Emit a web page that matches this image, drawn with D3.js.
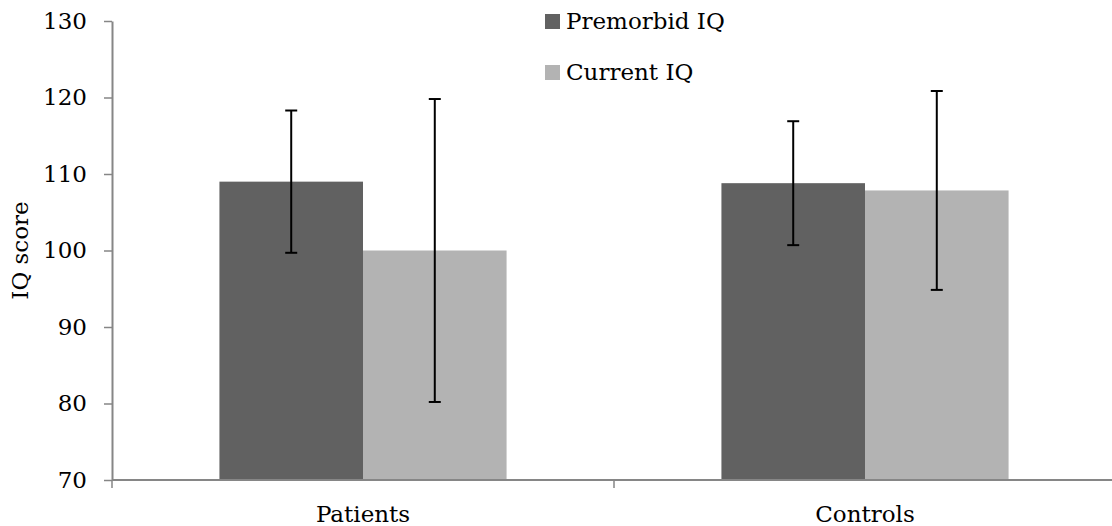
<!DOCTYPE html>
<html>
<head>
<meta charset="utf-8">
<script src="https://cdn.jsdelivr.net/npm/d3@7"></script>
<style>
  body { margin: 0; background: #fff; }
  svg text { font-family: "DejaVu Serif", serif; fill: #000; }
</style>
</head>
<body>
<figure id="bar-chart" style="margin:0"></figure>
<script>
const categories = ["Patients", "Controls"];
const seriesNames = ["Premorbid IQ", "Current IQ"];
const seriesColors = ["#616161", "#b3b3b3"];
const premorbidMeans = [109.0, 108.8];
const premorbidErr = [9.3, 8.1];
const currentMeans = [100.0, 107.85];
const currentErr = [19.8, 13.0];
const yTicks = [70, 80, 90, 100, 110, 120, 130];

const chartW = 1112, chartH = 526;
const plotLeft = 112, plotRight = 1116, plotTop = 21, plotBottom = 480;
const fontSize = 23;

const svg = d3.select("figure#bar-chart")
  .append("svg")
  .attr("width", chartW)
  .attr("height", chartH);

const data = categories.map((c, i) => ({
  name: c,
  values: [
    { key: seriesNames[0], mean: premorbidMeans[i], err: premorbidErr[i] },
    { key: seriesNames[1], mean: currentMeans[i], err: currentErr[i] }
  ]
}));

const xScale = d3.scaleBand()
  .domain(categories)
  .range([plotLeft, plotRight])
  .paddingInner(0.428)
  .paddingOuter(0.214);

const xInner = d3.scaleBand()
  .domain(seriesNames)
  .range([0, xScale.bandwidth()]);

const color = d3.scaleOrdinal().domain(seriesNames).range(seriesColors);

const yScale = d3.scaleLinear()
  .domain([70, 130])
  .range([plotBottom, plotTop]);

// bars
const groups = svg.selectAll("g.grp")
  .data(data)
  .enter()
  .append("g")
  .attr("class", "grp")
  .attr("transform", d => "translate(" + xScale(d.name) + ",0)");

groups.selectAll("rect")
  .data(d => d.values)
  .enter()
  .append("rect")
  .attr("x", d => xInner(d.key))
  .attr("y", d => yScale(d.mean))
  .attr("width", xInner.bandwidth())
  .attr("height", d => yScale(70) - yScale(d.mean))
  .attr("fill", d => color(d.key));

// error bars
const capW = 6;
const eb = groups.selectAll("g.err")
  .data(d => d.values)
  .enter()
  .append("g")
  .attr("class", "err")
  .attr("stroke", "#000")
  .attr("stroke-width", 2);

eb.append("line")
  .attr("x1", d => xInner(d.key) + xInner.bandwidth() / 2)
  .attr("x2", d => xInner(d.key) + xInner.bandwidth() / 2)
  .attr("y1", d => yScale(d.mean + d.err))
  .attr("y2", d => yScale(d.mean - d.err));
eb.append("line")
  .attr("x1", d => xInner(d.key) + xInner.bandwidth() / 2 - capW)
  .attr("x2", d => xInner(d.key) + xInner.bandwidth() / 2 + capW)
  .attr("y1", d => yScale(d.mean + d.err))
  .attr("y2", d => yScale(d.mean + d.err));
eb.append("line")
  .attr("x1", d => xInner(d.key) + xInner.bandwidth() / 2 - capW)
  .attr("x2", d => xInner(d.key) + xInner.bandwidth() / 2 + capW)
  .attr("y1", d => yScale(d.mean - d.err))
  .attr("y2", d => yScale(d.mean - d.err));

// y axis
const yAxis = svg.append("g")
  .attr("transform", "translate(" + plotLeft + ",0)")
  .call(d3.axisLeft(yScale).tickValues(yTicks).tickSize(8).tickPadding(17).tickSizeOuter(0));
yAxis.select(".domain").attr("stroke", "#868686").attr("stroke-width", 2);
yAxis.selectAll(".tick line").attr("stroke", "#868686").attr("stroke-width", 1.5);
yAxis.selectAll(".tick text")
  .attr("font-size", fontSize)
  .attr("font-family", "DejaVu Serif");

// x axis: boundaries between categories carry ticks
const xAxis = svg.append("g")
  .attr("transform", "translate(0," + plotBottom + ")");
xAxis.append("line")
  .attr("x1", plotLeft).attr("x2", plotRight)
  .attr("stroke", "#868686").attr("stroke-width", 2);
const bounds = [plotLeft].concat(categories.map(c => xScale(c) + xScale.bandwidth() + xScale.step() * xScale.paddingInner() / 2));
xAxis.selectAll("line.tk")
  .data(bounds)
  .enter()
  .append("line")
  .attr("class", "tk")
  .attr("x1", d => d).attr("x2", d => d)
  .attr("y1", 0).attr("y2", 8)
  .attr("stroke", "#868686").attr("stroke-width", 1.5);
xAxis.selectAll("text")
  .data(categories)
  .enter()
  .append("text")
  .attr("x", d => xScale(d) + xScale.bandwidth() / 2)
  .attr("y", 42)
  .attr("text-anchor", "middle")
  .attr("font-size", fontSize)
  .text(d => d);

// y title
svg.append("text")
  .attr("transform", "translate(28," + (plotTop + plotBottom) / 2 + ") rotate(-90)")
  .attr("text-anchor", "middle")
  .attr("font-size", fontSize)
  .text("IQ score");

// legend
const legend = svg.selectAll("g.leg")
  .data(seriesNames)
  .enter()
  .append("g")
  .attr("class", "leg")
  .attr("transform", (d, i) => "translate(545," + (14 + i * 51) + ")");
legend.append("rect")
  .attr("width", 15).attr("height", 15)
  .attr("fill", d => color(d));
legend.append("text")
  .attr("x", 21)
  .attr("y", 15)
  .attr("font-size", fontSize)
  .text(d => d);
</script>
</body>
</html>
